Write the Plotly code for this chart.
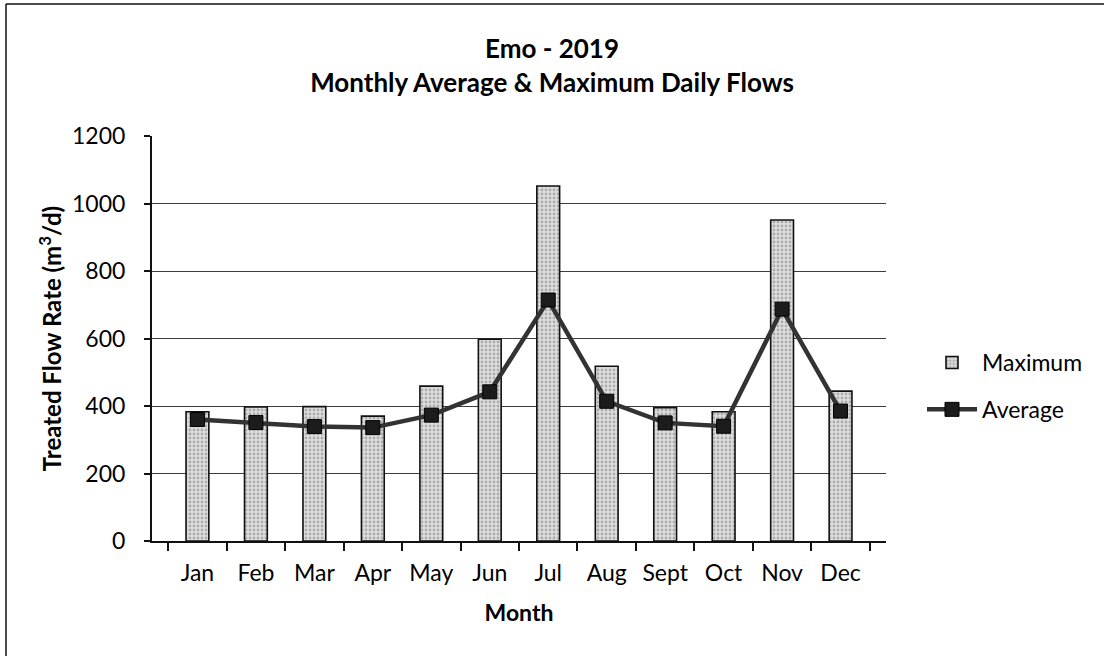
import plotly.graph_objects as go

months = ["Jan", "Feb", "Mar", "Apr", "May", "Jun", "Jul", "Aug", "Sept", "Oct", "Nov", "Dec"]
maximum = [383, 397, 398, 370, 459, 598, 1052, 518, 395, 383, 951, 444]
average = [360, 351, 339, 336, 373, 442, 714, 414, 350, 340, 687, 385]
y_ticks = [0, 200, 400, 600, 800, 1000, 1200]

FONT = "Lato"

fig = go.Figure()
fig.add_trace(go.Bar(
    x=months, y=maximum, name="Maximum",
    marker=dict(
        color="#d4d4d4",
        line=dict(color="#111111", width=1.6),
        pattern=dict(shape=".", fgcolor="#7a7a7a", bgcolor="#dedede", size=4, solidity=0.4),
    ),
    legendgroup="a",
))
fig.add_trace(go.Scatter(
    x=months, y=average, name="Average", mode="lines+markers",
    line=dict(color="#333333", width=4.5),
    marker=dict(symbol="square", size=14, color="#1c1c1c", line=dict(color="#000000", width=1)),
    legendgroup="b",
))

fig.update_layout(
    width=1104, height=656,
    margin=dict(l=152, r=218, t=136, b=115),
    paper_bgcolor="white", plot_bgcolor="white",
    font=dict(family=FONT, color="#000000", size=23),
    bargap=0.61,
    title=dict(
        text="<b>Emo - 2019</b><br><b>Monthly Average &amp; Maximum Daily Flows</b>",
        x=0.5, xref="container", xanchor="center",
        y=1 - 58 / 656, yref="container", yanchor="middle",
        font=dict(family=FONT, size=26, color="#000000"),
    ),
    legend=dict(
        x=922 / 1104, xref="container", xanchor="left",
        y=1 - 386 / 656, yref="container", yanchor="middle",
        font=dict(family=FONT, size=23, color="#000000"),
        traceorder="grouped", tracegroupgap=14,
        bgcolor="rgba(0,0,0,0)", itemwidth=50,
    ),
    showlegend=True,
    shapes=[
        dict(type="line", xref="paper", yref="paper",
             x0=(6 - 152) / 734, x1=(6 - 152) / 734, y0=1 + (136 - 4) / 405, y1=(541 - 660) / 405,
             line=dict(color="#111111", width=1.5)),
        dict(type="line", xref="paper", yref="paper",
             x0=(6 - 152) / 734, x1=(1110 - 152) / 734, y0=1 + (136 - 4) / 405, y1=1 + (136 - 4) / 405,
             line=dict(color="#111111", width=1.5)),
    ],
)

fig.update_xaxes(
    type="category", tickson="boundaries",
    ticks="outside", ticklen=8, tickwidth=1.5, tickcolor="#111111",
    ticklabelstandoff=10,
    showline=True, linecolor="#111111", linewidth=2,
    showgrid=False,
    tickfont=dict(family=FONT, size=23, color="#000000"),
    title=dict(text="<b>Month</b>", font=dict(family=FONT, size=23, color="#000000"), standoff=20),
)
fig.update_yaxes(
    range=[0, 1200], tickvals=y_ticks, ticktext=[str(v) for v in y_ticks],
    ticks="outside", ticklen=6, tickwidth=1.5, tickcolor="#111111",
    ticklabelstandoff=14,
    showline=True, linecolor="#111111", linewidth=2,
    showgrid=True, gridcolor="#3c3c3c", gridwidth=1.3,
    zeroline=False,
    tickfont=dict(family=FONT, size=23, color="#000000"),
    title=dict(text="<b>Treated Flow Rate (m<sup>3</sup>/d)</b>", font=dict(family=FONT, size=24, color="#000000"), standoff=4),
)

fig.write_html("out.html", config={"displayModeBar": False},
               post_script="document.body.style.margin='0px';")
